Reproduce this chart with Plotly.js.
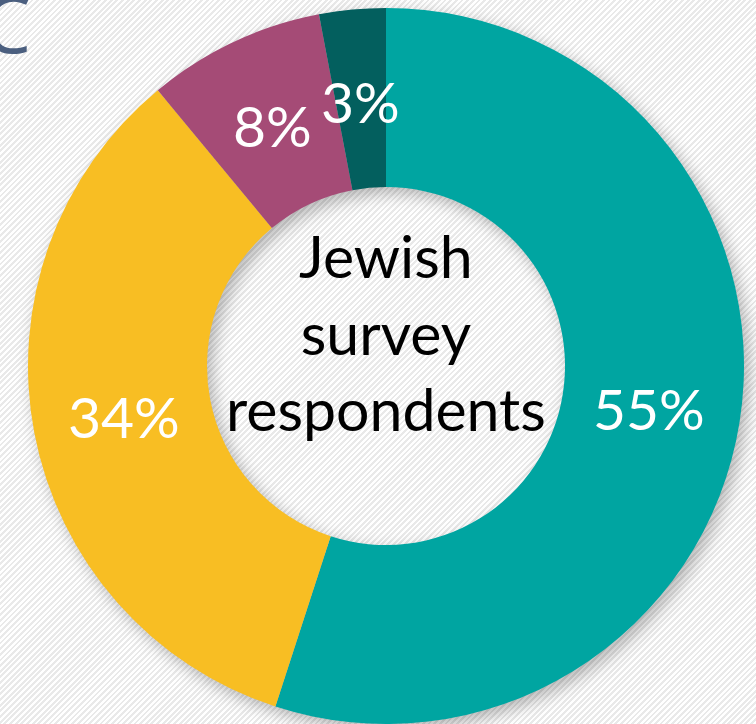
<!DOCTYPE html>
<html>
<head>
<meta charset="utf-8">
<script src="https://cdn.plot.ly/plotly-3.0.1.min.js"></script>
<style>
  html, body { margin: 0; padding: 0; }
  body {
    width: 756px; height: 724px; overflow: hidden;
    background-color: #f7f7f7;
    background-image: repeating-linear-gradient(135deg, #ffffff 0px, #ffffff 2px, #e9e9e9 2px, #e9e9e9 4px);
  }
  #chart { width: 756px; height: 724px; }
  .pielayer { filter: drop-shadow(5px 6px 8px rgba(0,0,0,0.28)); }
</style>
</head>
<body>
<div id="chart"></div>
<script>
const categories = ["Group A", "Group B", "Group C", "Group D"];
const values = [55, 34, 8, 3];
const textLabels = ["55%", "34%", "8%", "3%"];
const colors = ["#00a5a1", "#f8be23", "#a54b76", "#035f5e"];
const centerTitle = "Jewish<br>survey<br>respondents";

const W = 756, H = 724;
const domX = [28 / W, 744 / W], domY = [0, 716 / H];
const holeFrac = 0.5;

const trace = {
  type: "pie",
  labels: categories,
  values: values,
  textinfo: "none",
  hole: holeFrac,
  sort: false,
  direction: "clockwise",
  rotation: 0,
  marker: { colors: colors, line: { width: 0 } },
  domain: { x: domX, y: domY },
  showlegend: false,
  hoverinfo: "none"
};

// label positions derived from the data (slice mid-angles on the ring middle)
const cxPx = (domX[0] + domX[1]) / 2 * W;
const cyPx = H - (domY[0] + domY[1]) / 2 * H;
const Rpx = Math.min((domX[1] - domX[0]) * W, (domY[1] - domY[0]) * H) / 2;
const rMid = Rpx * (1 + holeFrac) / 2 - 2;
const total = values.reduce((a, b) => a + b, 0);
let cum = 0;
const labelAnns = values.map((v, i) => {
  const theta = (cum + v / 2) / total * 2 * Math.PI;
  cum += v;
  const px = cxPx + rMid * Math.sin(theta);
  const py = cyPx - rMid * Math.cos(theta);
  return {
    text: textLabels[i], xref: "paper", yref: "paper",
    x: px / W, y: 1 - py / H, xanchor: "center", yanchor: "middle",
    showarrow: false,
    font: { family: "Lato, Open Sans, sans-serif", size: 57, color: "#ffffff" }
  };
});

const layout = {
  width: W, height: H,
  margin: { l: 0, r: 0, t: 0, b: 0 },
  paper_bgcolor: "rgba(0,0,0,0)",
  plot_bgcolor: "rgba(0,0,0,0)",
  showlegend: false,
  annotations: labelAnns.concat([
    {
      text: centerTitle, xref: "paper", yref: "paper",
      x: cxPx / W, y: 1 - cyPx / H, xanchor: "center", yanchor: "middle", yshift: 34,
      showarrow: false,
      font: { family: "Lato, Open Sans, sans-serif", size: 59, color: "#000000" }
    },
    {
      text: "C", xref: "paper", yref: "paper", x: 0, y: 1,
      xanchor: "left", yanchor: "top", xshift: -20, yshift: 32,
      showarrow: false,
      font: { family: "Open Sans, sans-serif", size: 78, color: "#4b5f7f" }
    }
  ])
};

Plotly.newPlot("chart", [trace], layout, { staticPlot: true, displayModeBar: false });
</script>
</body>
</html>
